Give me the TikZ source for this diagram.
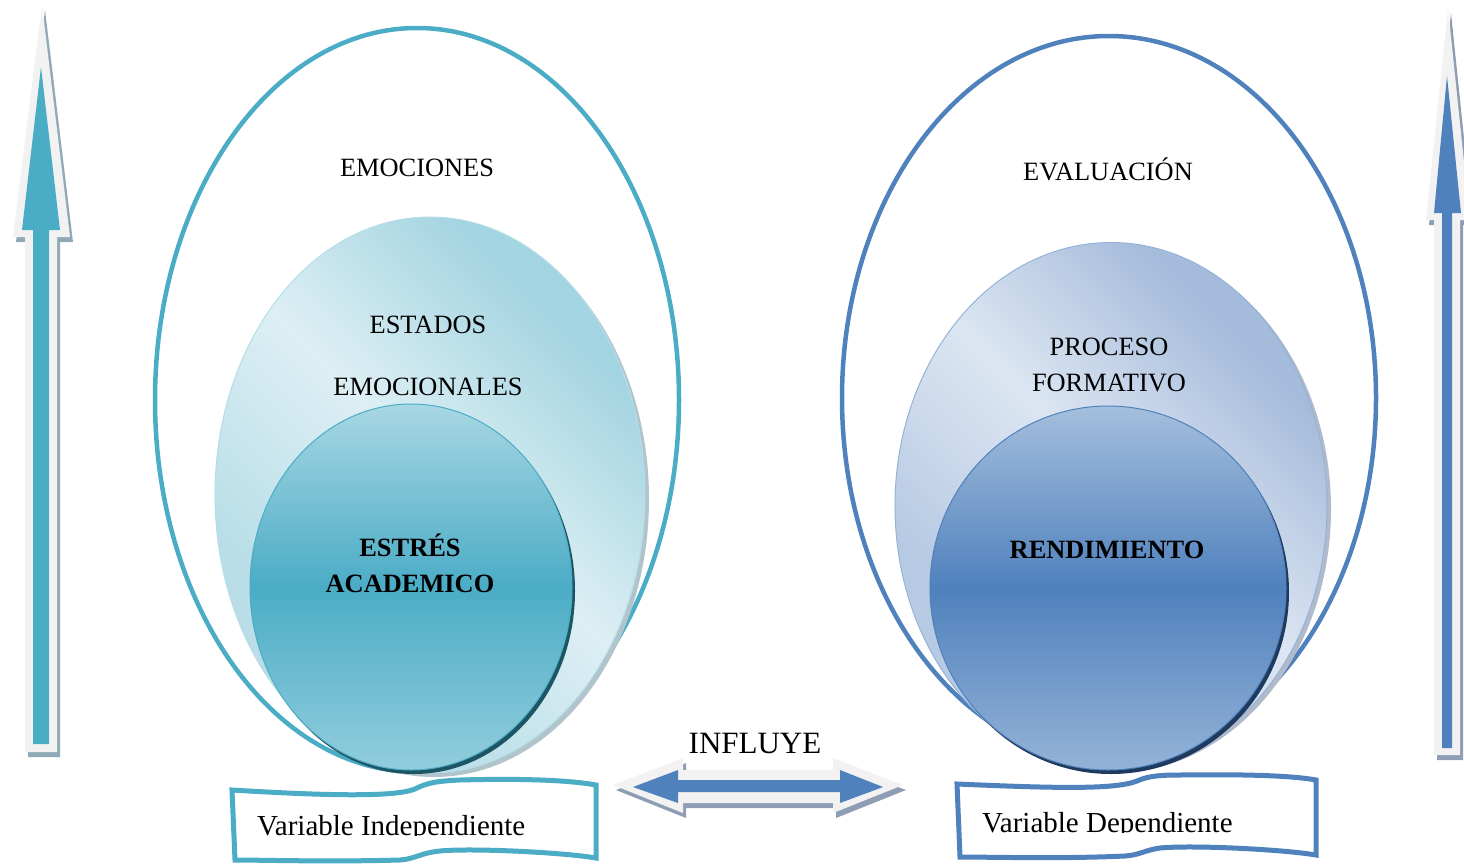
\documentclass[tikz,border=0pt]{standalone}
\usepackage{fontspec}
\setmainfont{Liberation Serif}
\usetikzlibrary{shapes.geometric}
\definecolor{aqua}{HTML}{4BACC6}
\definecolor{aqualt}{HTML}{92CDDC}
\definecolor{aquapale}{HTML}{DDEFF4}
\definecolor{aquamid}{HTML}{A3D4E1}
\definecolor{aquabot}{HTML}{B9DEE8}
\definecolor{aquadark}{HTML}{1E5564}
\definecolor{steel}{HTML}{4F81BD}
\definecolor{steellt}{HTML}{95B3D7}
\definecolor{steelpale}{HTML}{DCE6F2}
\definecolor{steelmid}{HTML}{A5BBDB}
\definecolor{steelbot}{HTML}{B7CAE3}
\definecolor{steeldark}{HTML}{1F3A5F}
\definecolor{arrbg}{HTML}{F2F2F2}
\definecolor{shadA}{HTML}{8FAAB5}
\definecolor{shadS}{HTML}{8E9DB3}
\pgfdeclareverticalshading{midaqshade}{100bp}{color(0bp)=(aquabot); color(32bp)=(aquabot); color(52bp)=(aquapale); color(72bp)=(aquamid); color(100bp)=(aquamid)}
\pgfdeclareverticalshading{midstshade}{100bp}{color(0bp)=(steelbot); color(32bp)=(steelbot); color(52bp)=(steelpale); color(72bp)=(steelmid); color(100bp)=(steelmid)}
\begin{document}
\begin{tikzpicture}[x=1pt,y=-1pt,
  lbl/.style={font=\fontsize{26.4}{30}\selectfont, anchor=base, inner sep=0pt},
  lblb/.style={lbl, font=\fontsize{26.4}{30}\selectfont\bfseries},
  ell/.style={ellipse, inner sep=0pt},
  banner/.style={line width=5pt, fill=white},
  bantext/.style={font=\fontsize{29}{31}\selectfont, anchor=base west, inner sep=0pt}
]
\useasboundingbox (0,0) rectangle (1464,865);
\begin{scope}
\clip (0,0) rectangle (1464,865);
% left vertical arrow
\fill[shadA] (28,757) -- (28,242) -- (16,242) -- (45,10) -- (73,242) -- (60,242) -- (60,757) -- cycle;
\fill[arrbg] (25,752) -- (25,237) -- (13,237) -- (42,5) -- (70,237) -- (57,237) -- (57,752) -- cycle;
\fill[aqua] (33,744) -- (33,230) -- (22,230) -- (41,67) -- (60,230) -- (49,230) -- (49,744) -- cycle;
% right vertical arrow
\fill[shadS] (1437,760) -- (1437,225) -- (1429,225) -- (1451,13) -- (1473,225) -- (1463,225) -- (1463,760) -- cycle;
\fill[arrbg] (1434,755) -- (1434,220) -- (1426,220) -- (1448,8) -- (1470,220) -- (1460,220) -- (1460,755) -- cycle;
\fill[steel] (1442,748) -- (1442,213) -- (1434,213) -- (1447,76) -- (1461,213) -- (1452,213) -- (1452,748) -- cycle;
\end{scope}

% left group
\node[ell, minimum width=524, minimum height=744, draw=aqua, line width=4.5pt] (outL) at (417,400) {};
\node[ell, minimum width=430, minimum height=556, fill=shadA!70] (midLsh) at (434,499) {};
\node[ell, minimum width=430, minimum height=556, draw=aquamid!80, line width=1pt,
      shade, shading=midaqshade, shading angle=-45] (midL) at (430,495) {};
\node[ell, minimum width=322, minimum height=366, fill=aquadark] (inLsh) at (414,591) {};
\node[ell, minimum width=322, minimum height=366, draw=aqua, line width=1pt,
      top color=aqualt!80!white, bottom color=aqualt, middle color=aqua] (inL) at (411,587) {};

% right group
\node[ell, minimum width=534, minimum height=724, draw=steel, line width=4.5pt] (outR) at (1109,398) {};
\node[ell, minimum width=432, minimum height=527, fill=shadS!70] (midRsh) at (1115,509) {};
\node[ell, minimum width=432, minimum height=527, draw=steellt, line width=1pt,
      shade, shading=midstshade, shading angle=-45] (midR) at (1111,506) {};
\node[ell, minimum width=356, minimum height=364, fill=steeldark] (inRsh) at (1111,592) {};
\node[ell, minimum width=356, minimum height=364, draw=steel, line width=1pt,
      top color=steellt!85!white, bottom color=steellt, middle color=steel] (inR) at (1108,588) {};

% texts
\node[lbl] (t1) at (417,176) {EMOCIONES};
\node[lbl] (t2) at (428,333) {ESTADOS};
\node[lbl] (t3) at (428,395) {EMOCIONALES};
\node[lblb] (t4) at (410,556) {ESTRÉS};
\node[lblb] (t5) at (410,592) {ACADEMICO};
\node[lbl] (t6) at (1108,180) {EVALUACIÓN};
\node[lbl] (t7) at (1109,355) {PROCESO};
\node[lbl] (t8) at (1109,391) {FORMATIVO};
\node[lblb] (t9) at (1107,558) {RENDIMIENTO};
\node[lbl, font=\fontsize{31}{34}\selectfont] (t10) at (755,753) {INFLUYE};

% banners
\draw[banner, draw=aqua] (232,790) .. controls (330,796) and (395,797) .. (415,789)
  .. controls (428,782) and (440,781) .. (460,780) .. controls (530,778) and (575,781) .. (596,785)
  -- (596,858) .. controls (560,852) and (470,848) .. (440,851) .. controls (420,853) and (415,859) .. (400,860)
  .. controls (330,862) and (260,860) .. (235,860) -- cycle;
\draw[banner, draw=steel] (957,784) .. controls (1050,788) and (1115,790) .. (1137,781)
  .. controls (1148,776) and (1160,775) .. (1180,775) .. controls (1250,774) and (1295,776) .. (1316,780)
  -- (1316,855) .. controls (1280,849) and (1190,845) .. (1160,848) .. controls (1145,850) and (1140,855) .. (1125,856)
  .. controls (1060,859) and (990,857) .. (960,857) -- cycle;
\begin{scope}
\clip (240,800) rectangle (590,835.5);
\node[bantext] (vi) at (257,835) {Variable Independiente};
\end{scope}
\begin{scope}
\clip (965,795) rectangle (1310,832.5);
\node[bantext] (vd) at (982,832) {Variable Dependiente};
\end{scope}

% double arrow INFLUYE
\fill[shadS] (616,790) -- (686,763) -- (686,775) -- (836,775) -- (836,763) -- (906,790) -- (836,818) -- (836,808) -- (686,808) -- (686,818) -- cycle;
\fill[arrbg] (613,785) -- (683,758) -- (683,770) -- (833,770) -- (833,758) -- (903,785) -- (833,813) -- (833,803) -- (683,803) -- (683,813) -- cycle;
\fill[steel] (633,787) -- (678,770) -- (678,780) -- (840,780) -- (840,770) -- (883,787) -- (840,803) -- (840,792) -- (678,792) -- (678,803) -- cycle;
\end{tikzpicture}
\end{document}
